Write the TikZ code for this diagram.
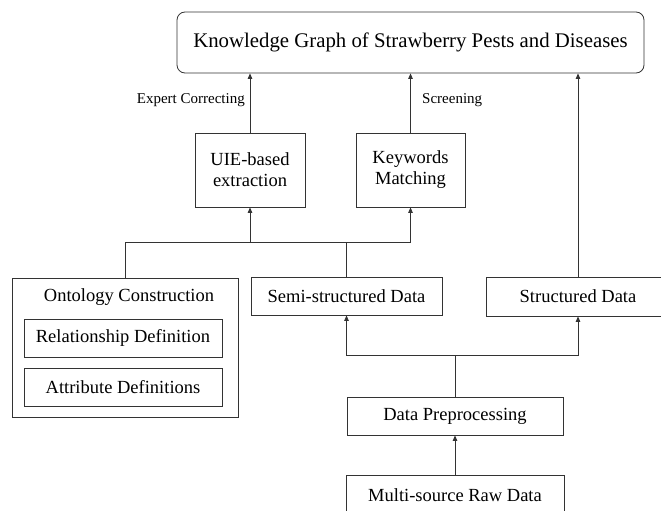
\documentclass[tikz,border=0pt]{standalone}
\usepackage{fontspec}
\setmainfont{Liberation Serif}
\usetikzlibrary{arrows.meta}
\begin{document}
\begin{tikzpicture}[x=1pt,y=-1pt,
  box/.style={draw=black!80, line width=0.8pt, inner sep=0pt, align=center, font=\fontsize{18.5}{21}\selectfont},
  arr/.style={draw=black!80, line width=0.8pt, -{Triangle[length=5.5pt,width=4.5pt]}},
  lbl/.style={font=\fontsize{15}{18}\selectfont, inner sep=0pt}]
\useasboundingbox (0,0) rectangle (661,511);
\node[box, rounded corners=8pt, minimum width=467pt, minimum height=61pt, font=\fontsize{20.8}{24}\selectfont] (title) at (410.5,42.5) {Knowledge Graph of Strawberry Pests and Diseases};
\node[box, minimum width=110pt, minimum height=74pt] (uie) at (250,170) {UIE-based\\extraction};
\node[box, minimum width=109pt, minimum height=74pt] (kw) at (410.5,170) {Keywords\\Matching};
\node[box, minimum width=226pt, minimum height=139pt] (onto) at (125,347.5) {};
\node[lbl, font=\fontsize{18.5}{21}\selectfont] (ontot) at (129,297) {Ontology Construction};
\node[box, minimum width=198pt, minimum height=38pt] (rel) at (123,338) {Relationship Definition};
\node[box, minimum width=198pt, minimum height=38pt] (attr) at (123,387) {Attribute Definitions};
\node[box, minimum width=191pt, minimum height=38pt] (semi) at (346.5,296) {Semi-structured Data};
\node[box, minimum width=184pt, minimum height=39pt] (struct) at (578,296.5) {Structured Data};
\node[box, minimum width=216pt, minimum height=38pt] (dp) at (455,416) {Data Preprocessing};
\node[box, minimum width=218pt, minimum height=39pt] (raw) at (455,495) {Multi-source Raw Data};
% labels
\node[lbl, anchor=east] (ec) at (245,100) {Expert Correcting};
\node[lbl, anchor=west] (scr) at (422,100) {Screening};
% connectors
\draw[arr] (uie.north) -- (uie.north |- title.south);
\draw[arr] (kw.north) -- (kw.north |- title.south);
\draw[arr] (struct.north) -- (struct.north |- title.south);
\draw[arr] (onto.north) -- ++(0,-35) -| (kw.south);
\draw[arr] (semi.north) -- ++(0,-34) -| (uie.south);
\draw[arr] (dp.north) -- ++(0,-41) -| (semi.south);
\draw[arr] (dp.north) -- ++(0,-41) -| (struct.south);
\draw[arr] (raw.north) -- (dp.south);
\end{tikzpicture}
\end{document}
